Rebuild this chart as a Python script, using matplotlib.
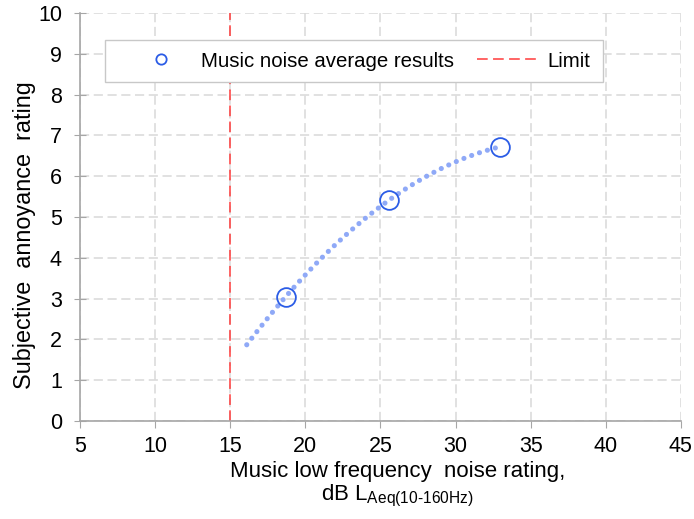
import numpy as np
from matplotlib import pyplot as plt
from matplotlib.patches import Rectangle

plt.rcParams['font.family'] = ['Liberation Sans', 'DejaVu Sans']

# measured averages
level = [18.7, 25.6, 32.95]
rating = [3.05, 5.42, 6.72]
limit_x = 15
trend_start = 16.1

x_ticks = list(range(5, 50, 5))
y_ticks = list(range(0, 11))

fig = plt.figure(figsize=(6.94, 5.19), dpi=100)
ax = fig.add_axes([0.1153, 0.1888, 0.8657, 0.7862])

# polynomial trend line (order 2) through the averages
coef = np.polyfit(level, rating, 2)
xt = np.linspace(trend_start, level[-1], 200)
ax.plot(xt, np.polyval(coef, xt), color='#8fa9f7', lw=3.7,
        linestyle=(0, (0.01, 1.6)), dash_capstyle='round', zorder=3)

ax.plot(level, rating, 'o', mfc='none', mec='#2b5ce6', ms=13.5, mew=1.3,
        label='Music noise average results', zorder=4)
ax.axvline(limit_x, color='#ff3b3b', lw=1.1, linestyle=(0, (7, 3.5)),
           label='Limit', zorder=2)

ax.set_xlim(5, 45)
ax.set_ylim(0, 10)
ax.set_xticks(x_ticks)
ax.set_yticks(y_ticks)
ax.grid(True, color='#d9d9d9', lw=1.1, linestyle=(0, (6, 3)))
ax.set_axisbelow(True)

for s in ['top', 'right']:
    ax.spines[s].set_visible(False)
for s in ['left', 'bottom']:
    ax.spines[s].set_color('#a6a6a6')
    ax.spines[s].set_linewidth(1.2)
ax.tick_params(axis='y', direction='inout', length=8, color='#a6a6a6',
               labelsize=15.5, pad=9)
ax.tick_params(axis='x', direction='out', length=5, color='#a6a6a6',
               labelsize=15.5, pad=6)

ax.set_ylabel('Subjective  annoyance  rating', fontsize=16.8)
ax.yaxis.set_label_coords(-0.073, 0.455)
ax.set_xlabel('Music low frequency  noise rating,\n'
              'dB L$_{\\mathregular{Aeq(10\u2010160Hz)}}$', fontsize=16,
              linespacing=1.05)
ax.xaxis.label.set_position((0.529, 0))
ax.xaxis.labelpad = 3

# legend box drawn separately (wider padding on the left, like the original)
box = Rectangle((0.042, 0.831), 0.828, 0.103, transform=ax.transAxes,
                facecolor='white', edgecolor='#c8c8c8', lw=1.0, zorder=6)
ax.add_patch(box)
leg = ax.legend(loc='center', bbox_to_anchor=(0.4667, 0.882), ncol=2,
                fontsize=14.7, markerscale=0.55, handlelength=3.0,
                handletextpad=0.45, columnspacing=1.1, frameon=False,
                borderpad=0, borderaxespad=0)
leg.set_zorder(7)

fig.savefig('out.png', dpi=100)
